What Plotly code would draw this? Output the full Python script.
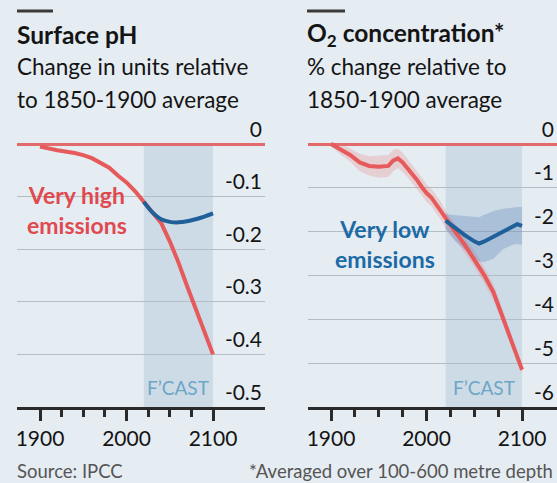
import plotly.graph_objects as go

W, H = 557, 483

# ---------------- data ----------------
ph_years = [1900, 1920, 1940, 1950, 1960, 1970, 1980, 1990, 2000, 2010,
            2020, 2030, 2040, 2050, 2060, 2070, 2080, 2090, 2100]
ph_high = [-0.005, -0.012, -0.017, -0.021, -0.027, -0.035, -0.045, -0.06, -0.073, -0.09,
           -0.11, -0.128, -0.15, -0.185, -0.225, -0.27, -0.315, -0.358, -0.40]
ph_low_years = [2020, 2030, 2040, 2050, 2060, 2070, 2080, 2090, 2100]
ph_low = [-0.11, -0.13, -0.143, -0.148, -0.149, -0.147, -0.143, -0.138, -0.132]

o2_years = [1900, 1910, 1920, 1930, 1940, 1950, 1960, 1965, 1970, 1975, 1980, 1985,
            1990, 1995, 2000, 2005, 2010, 2015, 2020, 2030, 2040, 2050, 2060, 2070,
            2080, 2090, 2100]
o2_high = [0.0, -0.12, -0.25, -0.42, -0.50, -0.52, -0.50, -0.38, -0.33, -0.42, -0.55, -0.68,
           -0.82, -0.98, -1.12, -1.22, -1.38, -1.52, -1.72, -2.0, -2.3, -2.62, -2.98, -3.38,
           -3.95, -4.55, -5.15]
o2_high_spread = [0.05, 0.12, 0.15, 0.2, 0.22, 0.25, 0.25, 0.25, 0.22, 0.22, 0.2, 0.2,
                  0.2, 0.2, 0.2, 0.2, 0.2, 0.2, 0.2, 0.18, 0.18, 0.18, 0.18, 0.18,
                  0.15, 0.12, 0.1]
o2_low_years = [2020, 2030, 2040, 2050, 2055, 2060, 2070, 2080, 2090, 2095, 2100]
o2_low = [-1.75, -1.92, -2.08, -2.22, -2.27, -2.23, -2.12, -2.0, -1.88, -1.83, -1.87]
o2_low_upper = [-1.60, -1.62, -1.64, -1.66, -1.67, -1.62, -1.53, -1.48, -1.45, -1.44, -1.44]
o2_low_lower = [-1.95, -2.22, -2.42, -2.60, -2.68, -2.70, -2.62, -2.40, -2.30, -2.28, -2.30]

ph_ticks = [0, -0.1, -0.2, -0.3, -0.4, -0.5]
ph_ticktext = ["0", "-0.1", "-0.2", "-0.3", "-0.4", "-0.5"]
o2_ticks = [0, -1, -2, -3, -4, -5, -6]
o2_ticktext = ["0", "-1", "-2", "-3", "-4", "-5", "-6"]
x_major = [1900, 2000, 2100]
x_minor = [1925, 1950, 1975, 2025, 2050, 2075]
forecast = [2020, 2100]

# ---------------- style ----------------
FONT = "Lato"
BG = "#e5ecf2"
SHADE = "#cddbe7"
RED = "#e65a5c"
RED_TXT = "#e04a4f"
BLUE = "#1f5f9a"
BLUE_TXT = "#1b6aa5"
GRID = "#b4bcc4"
INK = "#141414"

def px(x):
    return x / W

def py(y):
    return 1 - y / H

fig = go.Figure()

# left panel
fig.add_trace(go.Scatter(x=ph_years, y=ph_high, mode="lines",
                         line=dict(color=RED, width=4), xaxis="x", yaxis="y",
                         hoverinfo="skip"))
fig.add_trace(go.Scatter(x=ph_low_years, y=ph_low, mode="lines",
                         line=dict(color=BLUE, width=4, shape="spline"), xaxis="x", yaxis="y",
                         hoverinfo="skip"))

# right panel bands
o2_hi_up = [v + s for v, s in zip(o2_high, o2_high_spread)]
o2_hi_dn = [v - s for v, s in zip(o2_high, o2_high_spread)]
fig.add_trace(go.Scatter(x=o2_years + o2_years[::-1], y=o2_hi_up + o2_hi_dn[::-1],
                         fill="toself", fillcolor="rgba(235,120,120,0.25)",
                         line=dict(width=0), mode="lines", xaxis="x2", yaxis="y2",
                         hoverinfo="skip"))
fig.add_trace(go.Scatter(x=o2_low_years + o2_low_years[::-1],
                         y=o2_low_upper + o2_low_lower[::-1],
                         fill="toself", fillcolor="rgba(40,95,165,0.22)",
                         line=dict(width=0), mode="lines", xaxis="x2", yaxis="y2",
                         hoverinfo="skip"))
fig.add_trace(go.Scatter(x=o2_years, y=o2_high, mode="lines",
                         line=dict(color=RED, width=4), xaxis="x2", yaxis="y2",
                         hoverinfo="skip"))
fig.add_trace(go.Scatter(x=o2_low_years, y=o2_low, mode="lines",
                         line=dict(color=BLUE, width=4), xaxis="x2", yaxis="y2",
                         hoverinfo="skip"))

ydom = [py(407), py(138.74)]

def xaxis(domain, rng, anchor):
    return dict(domain=domain, range=rng, anchor=anchor, automargin=False,
                showgrid=False, zeroline=False,
                showline=True, linecolor="#2a2a2a", linewidth=2.5,
                ticks="outside", ticklen=11, tickwidth=2.5, tickcolor="#2a2a2a",
                tickmode="array", tickvals=x_major, ticktext=[str(v) for v in x_major],
                tickfont=dict(family=FONT, size=21, color=INK),
                minor=dict(tickmode="array", tickvals=x_minor, ticks="outside",
                           ticklen=7, tickwidth=2.5, tickcolor="#2a2a2a", showgrid=False),
                fixedrange=True)

def yaxis(anchor, rng, vals, text):
    return dict(domain=ydom, range=rng, anchor=anchor, side="right", automargin=False,
                tickmode="array", tickvals=vals, ticktext=text,
                ticklabelposition="inside top", ticklabeloverflow="allow",
                ticks="", showline=False, showgrid=True, gridcolor=GRID, gridwidth=1,
                zeroline=True, zerolinecolor="#e36a6a", zerolinewidth=2.5,
                tickfont=dict(family=FONT, size=21, color=INK), fixedrange=True)

fig.update_layout(
    width=W, height=H, autosize=False,
    margin=dict(l=0, r=0, t=0, b=0, pad=0, autoexpand=False),
    paper_bgcolor=BG, plot_bgcolor="rgba(0,0,0,0)",
    showlegend=False,
    xaxis=xaxis([px(17), px(265)], [1873.4, 2160.1], "y"),
    yaxis=yaxis("x", [-0.5, 0.01], ph_ticks, ph_ticktext),
    xaxis2=xaxis([px(308), 1.0], [1875.9, 2136.6], "y2"),
    yaxis2=yaxis("x2", [-6, 0.12], o2_ticks, o2_ticktext),
)

shapes = [
    dict(type="rect", xref="x", yref="y", x0=forecast[0], x1=forecast[1], y0=-0.5, y1=0,
         fillcolor=SHADE, line=dict(width=0), layer="below"),
    dict(type="rect", xref="x2", yref="y2", x0=forecast[0], x1=forecast[1], y0=-6, y1=0,
         fillcolor=SHADE, line=dict(width=0), layer="below"),
    dict(type="rect", xref="paper", yref="paper", x0=px(17), x1=px(53), y0=py(12.5), y1=py(9.5),
         fillcolor="#3a3a3a", line=dict(width=0)),
    dict(type="rect", xref="paper", yref="paper", x0=px(307), x1=px(345), y0=py(12.5), y1=py(9.5),
         fillcolor="#3a3a3a", line=dict(width=0)),
]
fig.update_layout(shapes=shapes)

ann = []
def text(x, y, s, size, color=INK, xanchor="left", yanchor="middle", bold=False, xref="paper", yref="paper", align="left"):
    ann.append(dict(x=x, y=y, xref=xref, yref=yref, text=(f"<b>{s}</b>" if bold else s),
                    showarrow=False, xanchor=xanchor, yanchor=yanchor, align=align,
                    font=dict(family=FONT, size=size, color=color)))

text(px(15), py(35), "Surface pH", 24.5, bold=True)
text(px(15), py(67), "Change in units relative", 22.5)
text(px(15), py(100), "to 1850-1900 average", 22.5)
text(px(305), py(35), "O<sub>2</sub> concentration*", 24.5, bold=True)
text(px(305), py(67), "% change relative to", 22.5)
text(px(305), py(100), "1850-1900 average", 22.5)
text(px(15), py(471), "Source: IPCC", 18.5, color="#555555")
text(px(555), py(471), "*Averaged over 100-600 metre depth", 18.5, color="#555555", xanchor="right")

text(1942.7, -0.126, "Very high<br>emissions", 23, color=RED_TXT, bold=True,
     xanchor="center", xref="x", yref="y", align="center")
text(1956, -2.27, "Very low<br>emissions", 23, color=BLUE_TXT, bold=True,
     xanchor="center", xref="x2", yref="y2", align="center")
text(2060, -0.463, "F’CAST", 19, color="#6ea6c6", xanchor="center", xref="x", yref="y")
text(2060, -5.55, "F’CAST", 19, color="#6ea6c6", xanchor="center", xref="x2", yref="y2")

fig.update_layout(annotations=ann)

fig.write_html("out.html", config={"displayModeBar": False},
               post_script="document.body.style.margin='0';document.body.style.overflow='hidden';")
